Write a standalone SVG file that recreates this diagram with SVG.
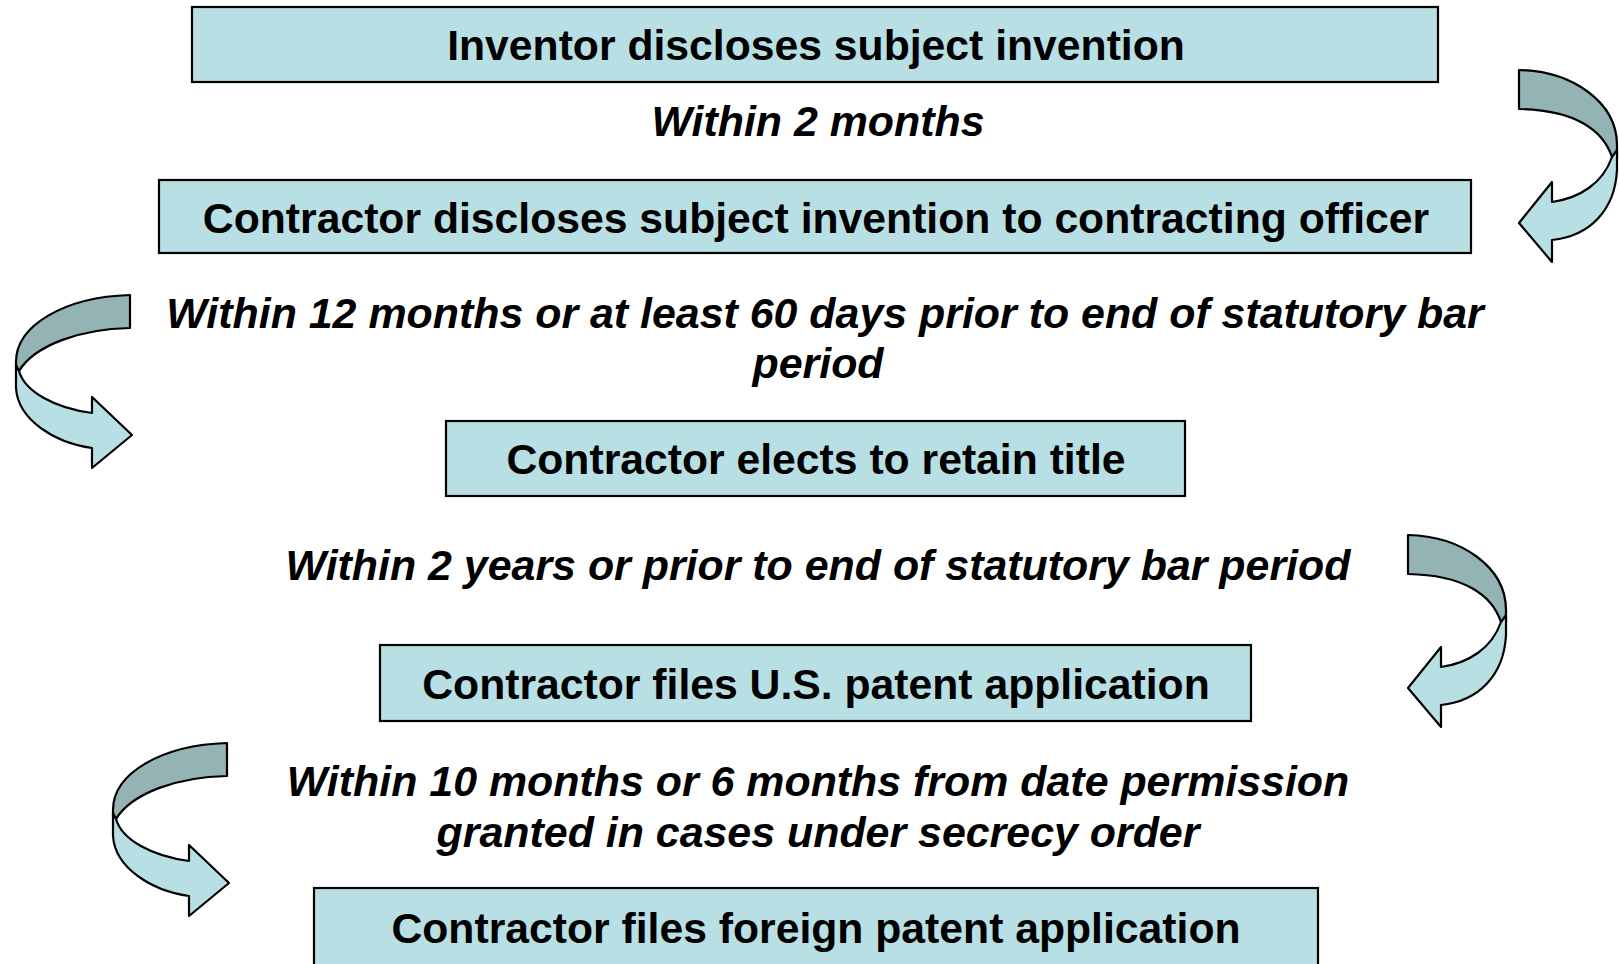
<svg xmlns="http://www.w3.org/2000/svg" width="1619" height="964" viewBox="0 0 1619 964">
<style>
.box{fill:#B8DFE3;stroke:#000;stroke-width:2.2}
.bt{font-family:"Liberation Sans",Arial,sans-serif;font-weight:bold;font-size:42.7px;fill:#000;text-anchor:middle}
.lt{font-family:"Liberation Sans",Arial,sans-serif;font-weight:bold;font-style:italic;font-size:42.9px;fill:#000;text-anchor:middle}
.dk{fill:#93B3B5;stroke:#000;stroke-width:2.2;stroke-linejoin:round}
.lg{fill:#B8DFE3;stroke:#000;stroke-width:2.2;stroke-linejoin:round}
</style>
<defs>
<g id="arrowR">
<path class="dk" d="M1519,70 C1572,71 1617,102 1617,145 L1617,158 L1612,157 C1603,130 1575,110 1519,109 Z"/>
<path class="lg" d="M1617,150 L1617,170 C1615,210 1590,236 1552,240 L1552,262 L1519,223 L1552,182 L1552,202 C1580,198 1603,183 1612,157 Z"/>
</g>
<g id="arrowL">
<path class="dk" d="M130,295 C65,297 16,325 16,362 L16,368 L19,371 C35,345 80,329 130,328 Z"/>
<path class="lg" d="M16,365 L16,388 C18,420 55,443 92,448 L92,468 L132,435 L92,397 L92,413 C55,408 25,392 19,371 Z"/>
</g>
</defs>
<g id="node-inventor">
<rect class="box" x="192" y="7" width="1246" height="75"/>
<text class="bt" x="816" y="60">Inventor discloses subject invention</text>
</g>
<g id="node-contractor-discloses">
<rect class="box" x="159" y="180" width="1312" height="73"/>
<text class="bt" x="816" y="233">Contractor discloses subject invention to contracting officer</text>
</g>
<g id="node-elects">
<rect class="box" x="446" y="421" width="739" height="75"/>
<text class="bt" x="816" y="474">Contractor elects to retain title</text>
</g>
<g id="node-us-patent">
<rect class="box" x="380" y="645" width="871" height="76"/>
<text class="bt" x="816" y="699">Contractor files U.S. patent application</text>
</g>
<g id="node-foreign">
<rect class="box" x="314" y="888" width="1004" height="80"/>
<text class="bt" x="816" y="943">Contractor files foreign patent application</text>
</g>
<g id="connectors">
<use href="#arrowR"/>
<use href="#arrowL"/>
<use href="#arrowR" transform="translate(-111,465)"/>
<use href="#arrowL" transform="translate(97,448)"/>
<text class="lt" x="818" y="136">Within 2 months</text>
<text class="lt" x="825" y="328">Within 12 months or at least 60 days prior to end of statutory bar</text>
<text class="lt" x="818" y="378">period</text>
<text class="lt" x="818" y="580">Within 2 years or prior to end of statutory bar period</text>
<text class="lt" x="818" y="796">Within 10 months or 6 months from date permission</text>
<text class="lt" x="818" y="847">granted in cases under secrecy order</text>
</g>
</svg>
